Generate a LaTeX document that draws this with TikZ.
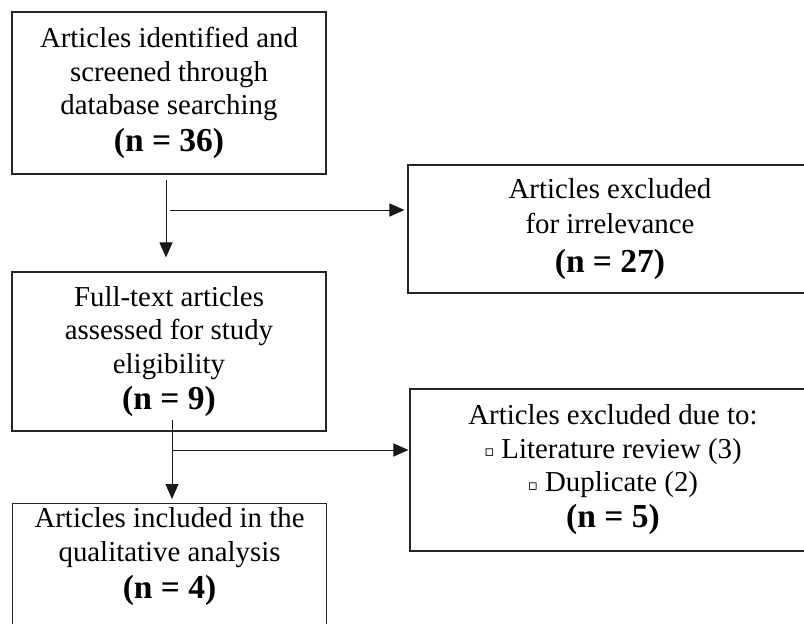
\documentclass[tikz,border=0pt]{standalone}
\usepackage{fontspec}
\setmainfont{Liberation Serif}
\newfontfamily\symfont{DejaVu Sans}
\usetikzlibrary{arrows.meta}
\newcommand{\nbold}[1]{{\fontsize{33.5}{38}\selectfont\bfseries #1}}
\newcommand{\sqbul}{\raisebox{1.5pt}{\symfont\fontsize{15}{15}\selectfont ▫}\hspace{7pt}}
\begin{document}
\begin{tikzpicture}[x=1pt,y=-1pt,
  box/.style={draw=black!85, line width=1.1pt, align=center, inner sep=0pt,
    font=\fontsize{28.85}{33.5}\selectfont},
  arr/.style={draw=black!90, line width=1pt, -{Triangle[length=15pt,width=13pt]}}]
\useasboundingbox (0,0) rectangle (804,624);
\clip (0,0) rectangle (804,624);
\fill[white] (0,0) rectangle (804,624);
\node[box, minimum width=314, minimum height=162] (b1) at (169,93)
  {Articles identified and\\screened through\\database searching\\[3pt]\nbold{(n = 36)}};
\node[box, minimum width=404, minimum height=128] (b2) at (610,229)
  {Articles excluded\\[1.5pt]for irrelevance\\[5pt]\nbold{(n = 27)}};
\node[box, minimum width=314, minimum height=159] (b3) at (169,351.5)
  {Full-text articles\\assessed for study\\eligibility\\[2.5pt]\nbold{(n = 9)}};
\node[box, minimum width=406, minimum height=162] (b4) at (613,470)
  {Articles excluded due to:\\\sqbul Literature review (3)\\\sqbul Duplicate (2)\\[2.5pt]\nbold{(n = 5)}};
\node[box, anchor=north west, minimum width=314, inner ysep=4pt] (b5) at (12,503)
  {Articles included in the\\qualitative analysis\\[4pt]\nbold{(n = 4)}\\[40pt]\mbox{}};
\coordinate (a1s) at (166,180);
\coordinate (h1s) at (170,210);
\coordinate (a2s) at (172,420);
\coordinate (h2s) at (172,450);
\draw[arr, shorten >=14pt] (a1s) -- (a1s |- b3.north);
\draw[arr, shorten >=3pt] (h1s) -- (h1s -| b2.west);
\draw[arr, shorten >=4pt] (a2s) -- (a2s |- b5.north);
\draw[arr, shorten >=1pt] (h2s) -- (h2s -| b4.west);
\end{tikzpicture}
\end{document}
